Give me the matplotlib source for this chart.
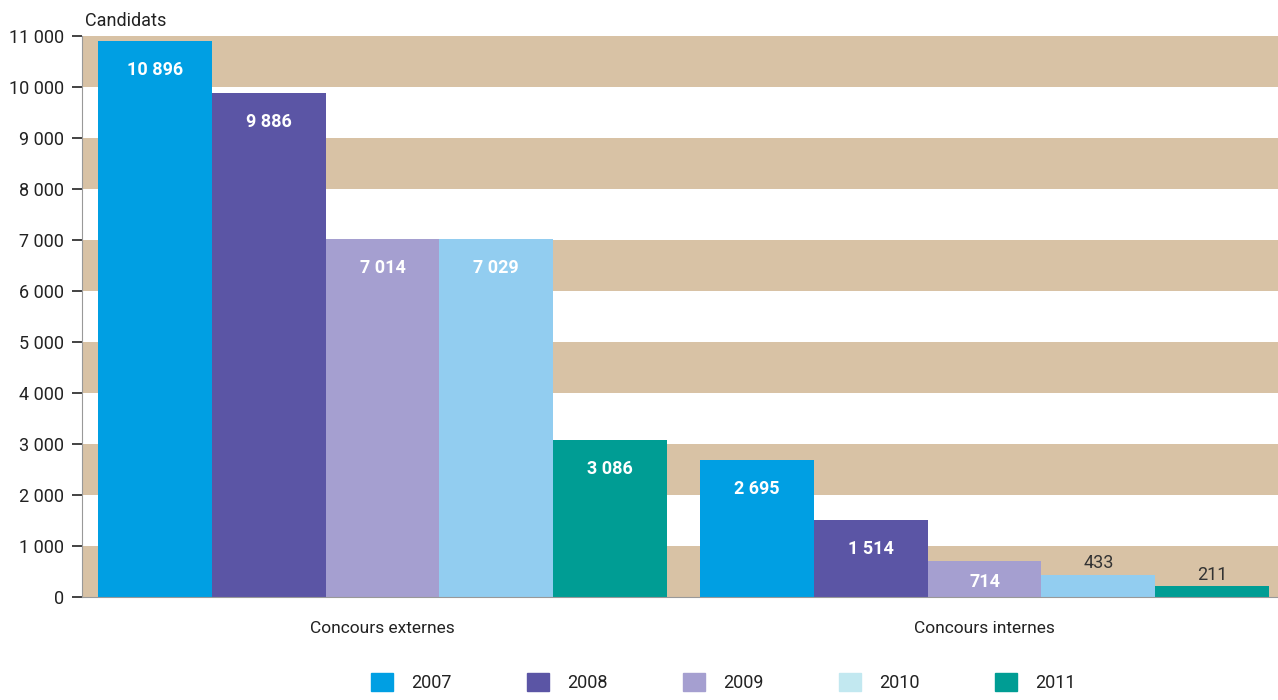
'''
    Candidats aux concours externes / internes 2007-2011
'''
import matplotlib.pyplot as plt
from matplotlib.patches import Patch

plt.rcParams['font.family'] = ['Roboto', 'DejaVu Sans']

groups = ['Concours externes', 'Concours internes']
years = ['2007', '2008', '2009', '2010', '2011']
values = {
    '2007': [10896, 2695],
    '2008': [9886, 1514],
    '2009': [7014, 714],
    '2010': [7029, 433],
    '2011': [3086, 211],
}
bar_colors = ['#009FE3', '#5B55A5', '#A59FD0', '#92CDF0', '#009D94']
legend_colors = ['#009FE3', '#5B55A5', '#A59FD0', '#C2E8F0', '#009D94']
yticks = list(range(0, 11001, 1000))


def fmt(v):
    return f'{v:,}'.replace(',', ' ')


fig = plt.figure(figsize=(12.78, 7), dpi=100)
ax = fig.add_axes([0.0642, 0.147, 0.9358, 0.8016])

# alternating bands
for lo in range(0, 11000, 2000):
    ax.axhspan(lo, lo + 1000, color='#D8C2A5', lw=0, zorder=0)

w = 0.189
for i, year in enumerate(years):
    xs = [g + (i - 2) * w for g in range(len(groups))]
    bars = ax.bar(xs, values[year], width=w, color=bar_colors[i], zorder=2)
    for b, v in zip(bars, values[year]):
        cx = b.get_x() + b.get_width() / 2
        if v < 600:
            ax.annotate(fmt(v), (cx, v), xytext=(0, 2), textcoords='offset points',
                        ha='center', va='bottom', fontsize=13, color='#333333')
        elif v < 1000:
            ax.annotate(fmt(v), (cx, v), xytext=(0, -15), textcoords='offset points',
                        ha='center', va='center', fontsize=13, color='white',
                        fontweight='bold')
        else:
            ax.annotate(fmt(v), (cx, v), xytext=(0, -21), textcoords='offset points',
                        ha='center', va='center', fontsize=13, color='white',
                        fontweight='bold')

ax.set_xlim(-0.499, 1.4875)
ax.set_ylim(0, 11000)
ax.set_yticks(yticks)
ax.set_yticklabels([fmt(t) for t in yticks], fontsize=13, color='#222222')
ax.tick_params(axis='y', length=7, width=1.2, color='#222222', pad=6)
ax.set_xticks(range(len(groups)))
ax.set_xticklabels(groups, fontsize=12.5, color='#222222')
ax.tick_params(axis='x', length=0, pad=17)
for s in ['top', 'right']:
    ax.spines[s].set_visible(False)
ax.spines['left'].set_color('#999999')
ax.spines['bottom'].set_color('#999999')

fig.text(0.0665, 0.97, 'Candidats', fontsize=13, color='#222222', ha='left', va='center')

handles = [Patch(color=c) for c in legend_colors]
fig.legend(handles, years, loc='lower center', bbox_to_anchor=(0.566, -0.012), ncol=5,
           frameon=False, fontsize=13, handlelength=1.2, handleheight=1.2,
           columnspacing=4.2, handletextpad=1.0, labelcolor='#222222')

fig.savefig('out.png', dpi=100)
